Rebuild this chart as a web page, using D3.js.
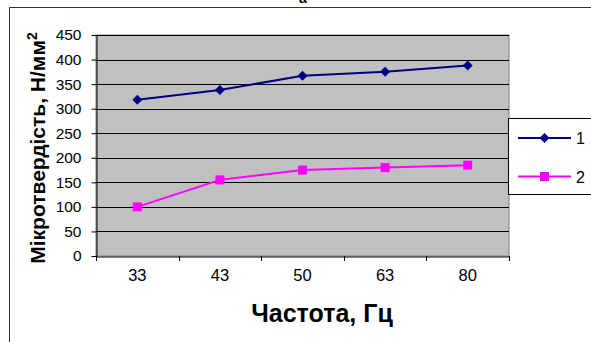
<!DOCTYPE html>
<html><head><meta charset="utf-8">
<script src="https://cdn.jsdelivr.net/npm/d3@7"></script>
<style>body{margin:0;background:#fff;} svg{display:block;font-family:"Liberation Sans",Arial,sans-serif;}</style>
</head><body>
<script>
const categories = ["33","43","50","63","80"];
const series1 = [318, 338, 367, 375, 388];
const series2 = [100, 155, 175, 180, 185];
const seriesNames = ["1","2"];
const yTicks = [0,50,100,150,200,250,300,350,400,450];

const W=591,H=342;
const svg=d3.select("body").append("svg").attr("width",W).attr("height",H);

// outer frame
svg.append("line").attr("x1",9.5).attr("x2",9.5).attr("y1",7.5).attr("y2",H).attr("stroke","#333");
svg.append("line").attr("x1",9.5).attr("x2",W).attr("y1",7.5).attr("y2",7.5).attr("stroke","#333");
svg.append("text").attr("x",303).attr("y",2.5).attr("text-anchor","middle").attr("font-size",14).attr("font-weight","bold").text("а");

const L=96,R=509,T=35,B=256;
const x=d3.scaleBand().domain(categories).range([L,R]).padding(0);
const y=d3.scaleLinear().domain([0,450]).range([B,T]);

svg.append("rect").attr("x",L).attr("y",T).attr("width",R-L).attr("height",B-T).attr("fill","#C0C0C0").attr("stroke","#808080");

// gridlines
svg.append("g").selectAll("line").data(yTicks.slice(1)).join("line")
  .attr("x1",L).attr("x2",R).attr("y1",d=>Math.round(y(d))+0.5).attr("y2",d=>Math.round(y(d))+0.5)
  .attr("stroke","#000");

// y axis
const ya=svg.append("g").attr("transform",`translate(${L+0.5},0)`)
  .call(d3.axisLeft(y).tickValues(yTicks).tickSize(5).tickPadding(10).tickSizeOuter(0));
ya.select(".domain").attr("stroke","#000");
ya.selectAll(".tick line").attr("stroke","#000");
ya.selectAll("text").attr("font-size",15.5).attr("fill","#000").attr("font-family","Liberation Sans, Arial");

// x axis
const xa=svg.append("g").attr("transform",`translate(0,${B+0.5})`)
  .call(d3.axisBottom(x).tickSize(0).tickPadding(13).tickSizeOuter(0));
xa.select(".domain").attr("stroke","#000");
xa.selectAll("text").attr("font-size",16.5).attr("fill","#000").attr("font-family","Liberation Sans, Arial");
const bounds=categories.map(c=>x(c)).concat([x(categories[categories.length-1])+x.bandwidth()]);
svg.append("g").selectAll("line").data(bounds).join("line")
  .attr("x1",d=>Math.round(d)+0.5).attr("x2",d=>Math.round(d)+0.5).attr("y1",B).attr("y2",B+5).attr("stroke","#000");

const cx=c=>x(c)+x.bandwidth()/2;
const line=d3.line().x((d,i)=>cx(categories[i])).y(d=>y(d));

function diamond(g,px,py,s,col){g.append("path").attr("d",`M${px},${py-s}L${px+s},${py}L${px},${py+s}L${px-s},${py}Z`).attr("fill",col);}
function square(g,px,py,s,col){g.append("rect").attr("x",px-s).attr("y",py-s).attr("width",2*s).attr("height",2*s).attr("fill",col);}

svg.append("path").datum(series1).attr("d",line).attr("fill","none").attr("stroke","#000080").attr("stroke-width",2);
svg.append("path").datum(series2).attr("d",line).attr("fill","none").attr("stroke","#FF00FF").attr("stroke-width",2);
const gm=svg.append("g");
series1.forEach((v,i)=>diamond(gm,cx(categories[i]),y(v),5,"#000080"));
series2.forEach((v,i)=>square(gm,cx(categories[i]),y(v),4.5,"#FF00FF"));

// legend
svg.append("rect").attr("x",508.5).attr("y",118.5).attr("width",100).attr("height",76).attr("fill","#fff").attr("stroke","#000");
const leg=[{n:seriesNames[0],c:"#000080",m:diamond,yy:138},{n:seriesNames[1],c:"#FF00FF",m:square,yy:176.5}];
leg.forEach(d=>{
  svg.append("line").attr("x1",518).attr("x2",571).attr("y1",d.yy).attr("y2",d.yy).attr("stroke",d.c).attr("stroke-width",2);
  d.m(svg,544.5,d.yy,d.m===diamond?5:4.5,d.c);
  svg.append("text").attr("x",576).attr("y",d.yy+6).attr("font-size",16).text(d.n);
});

// titles
svg.append("text").attr("x",322).attr("y",321.5).attr("text-anchor","middle").attr("font-size",25).attr("font-weight","bold").text("Частота, Гц");
svg.append("text").attr("transform","translate(45,148) rotate(-90)").attr("text-anchor","middle").attr("font-size",21).attr("font-weight","bold")
  .html('Мікротвердість, Н/мм<tspan dy="-8" font-size="14">2</tspan>');
</script>
</body></html>
